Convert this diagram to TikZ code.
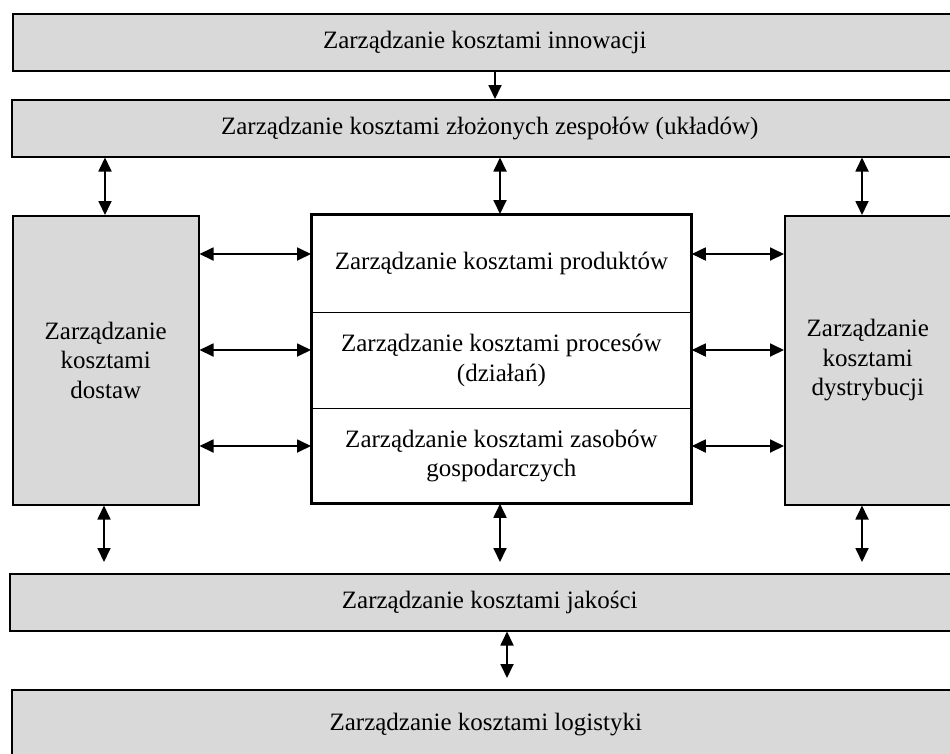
\documentclass[tikz,border=0pt]{standalone}
\usepackage{fontspec}
\setmainfont{Liberation Serif}
\usetikzlibrary{arrows.meta}
\definecolor{boxfill}{gray}{0.85}
\tikzset{
  box/.style={draw, line width=1.5pt, fill=boxfill, inner sep=0pt, anchor=north west,
    align=center, font=\fontsize{25}{29.5}\selectfont},
  section/.style={draw, line width=0.8pt, fill=white, inner sep=0pt, anchor=north west,
    align=center, font=\fontsize{25}{29.5}\selectfont},
  outline/.style={line width=3pt},
  link/.style={line width=1.8pt, {Triangle[length=14pt,width=13pt]}-{Triangle[length=14pt,width=13pt]}},
  onelink/.style={line width=1.8pt, -{Triangle[length=14pt,width=13pt]}}
}
\begin{document}
\begin{tikzpicture}[x=1pt,y=-1pt]
\useasboundingbox (0,0) rectangle (950,753);
\fill[white] (0,0) rectangle (950,753);
\clip (0,0) rectangle (950,753);

% horizontal bands
\node[box, minimum width=944pt, minimum height=57pt] (innow) at (12,13) {Zarządzanie kosztami innowacji};
\node[box, minimum width=956pt, minimum height=57pt] (zesp) at (11,99) {Zarządzanie kosztami złożonych zespołów (układów)};

% side columns
\node[box, minimum width=186pt, minimum height=289pt] (dost) at (12,215) {Zarządzanie\\kosztami\\dostaw};
\node[box, minimum width=166pt, minimum height=289pt] (dystr) at (784,215) {Zarządzanie\\kosztami\\dystrybucji};

% central stack
\node[section, minimum width=380pt, minimum height=98pt] (prod) at (311,214) {Zarządzanie kosztami produktów};
\node[section, minimum width=380pt, minimum height=96pt] (proc) at (311,312) {Zarządzanie kosztami procesów\\(działań)};
\node[section, minimum width=380pt, minimum height=95pt] (zas) at (311,408) {Zarządzanie kosztami zasobów\\gospodarczych};
\draw[outline] (prod.north west) rectangle (zas.south east);

% lower bands
\node[box, minimum width=960pt, minimum height=57pt] (jak) at (9,573) {Zarządzanie kosztami jakości};
\node[box, minimum width=948pt, minimum height=70pt] (log) at (11,689) {\raisebox{4pt}{Zarządzanie kosztami logistyki}};

% vertical connectors
\draw[onelink] (495,0 |- innow.south) -- (495,0 |- zesp.north);
\draw[link] (105,0 |- zesp.south) -- (105,0 |- dost.north);
\draw[link] (500,0 |- zesp.south) -- (500,0 |- prod.north);
\draw[link] (862,0 |- zesp.south) -- (862,0 |- dystr.north);
\draw[link, shorten >=11pt] (104,0 |- dost.south) -- (104,0 |- jak.north);
\draw[link, shorten >=11pt] (500,0 |- zas.south) -- (500,0 |- jak.north);
\draw[link, shorten >=11pt] (862,0 |- dystr.south) -- (862,0 |- jak.north);
\draw[link, shorten >=11pt] (507,0 |- jak.south) -- (507,0 |- log.north);

% horizontal connectors
\foreach \yy in {254,350,446} {
  \draw[link] (dost.east |- 0,\yy) -- (prod.west |- 0,\yy);
  \draw[link] (prod.east |- 0,\yy) -- (dystr.west |- 0,\yy);
}
\end{tikzpicture}
\end{document}
